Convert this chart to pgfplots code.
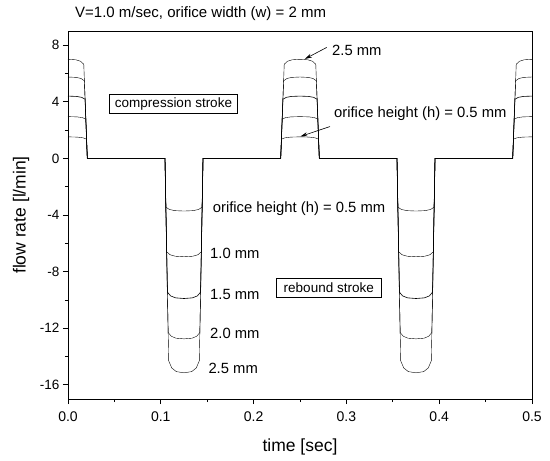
\documentclass[border=0pt]{standalone}
\usepackage{fontspec}
\setmainfont{Liberation Sans}
\usepackage{pgfplots}
\pgfplotsset{compat=1.18}
\usetikzlibrary{arrows.meta}
\newcommand{\fs}[1]{\fontsize{#1}{#1}\selectfont}

\begin{document}
\begin{tikzpicture}
\begin{axis}[name=ax, scale only axis, width=464pt, height=368pt,
  xmin=0, xmax=0.5, ymin=-17, ymax=9,
  xtick={0,0.1,0.2,0.3,0.4,0.5}, minor xtick={0.05,0.15,0.25,0.35,0.45},
  ytick={-16,-12,-8,-4,0,4,8}, minor ytick={-14,-10,-6,-2,2,6},
  xtick pos=bottom, ytick pos=left, tick align=outside,
  major tick length=5pt, minor tick length=3pt,
  tick style={black, line width=0.7pt},
  axis line style={line width=0.9pt},
  /pgf/number format/assume math mode=true,
  xticklabel style={font=\fs{14}, yshift=-4pt, /pgf/number format/.cd, fixed, fixed zerofill, precision=1},
  yticklabel style={font=\fs{13.5}},
  xlabel={time [sec]}, ylabel={flow rate [l/min]},
  label style={font=\fs{17.5}},
  xlabel style={at={(axis description cs:0.5,-0.130)}, anchor=center},
  ylabel style={at={(axis description cs:-0.101,0.5)}, anchor=center},
  cycle list={{black, solid, line width=0.6pt}}]

% h = 2.5 mm
\addplot coordinates {(0,7.0) (0.0085,6.965) (0.0136,6.86) (0.017,6.65) (0.0208,0)
 (0.1045,0) (0.1085,-14.3) (0.1118,-14.81) (0.11675,-15.065) (0.125,-15.15) (0.13325,-15.065) (0.1382,-14.81) (0.1415,-14.3) (0.1455,0)
 (0.2292,0) (0.233,6.65) (0.2364,6.86) (0.2415,6.965) (0.25,7.0) (0.2585,6.965) (0.2636,6.86) (0.267,6.65) (0.2708,0)
 (0.3545,0) (0.3585,-14.3) (0.3618,-14.81) (0.36675,-15.065) (0.375,-15.15) (0.38325,-15.065) (0.3882,-14.81) (0.3915,-14.3) (0.3955,0)
 (0.4792,0) (0.483,6.65) (0.4864,6.86) (0.4915,6.965) (0.5,7.0)};
% h = 2.0 mm
\addplot coordinates {(0,5.75) (0.00885,5.723) (0.01416,5.642) (0.0177,5.48) (0.0208,0)
 (0.1045,0) (0.1079,-12.3) (0.11132,-12.57) (0.11645,-12.705) (0.125,-12.75) (0.13355,-12.705) (0.13868,-12.57) (0.1421,-12.3) (0.1455,0)
 (0.2292,0) (0.2323,5.48) (0.23584,5.642) (0.24115,5.723) (0.25,5.75) (0.25885,5.723) (0.26416,5.642) (0.2677,5.48) (0.2708,0)
 (0.3545,0) (0.3579,-12.3) (0.36132,-12.57) (0.36645,-12.705) (0.375,-12.75) (0.38355,-12.705) (0.38868,-12.57) (0.3921,-12.3) (0.3955,0)
 (0.4792,0) (0.4823,5.48) (0.48584,5.642) (0.49115,5.723) (0.5,5.75)};
% h = 1.5 mm
\addplot coordinates {(0,4.4) (0.0092,4.378) (0.01472,4.312) (0.0184,4.18) (0.0208,0)
 (0.1045,0) (0.1071,-9.45) (0.11068,-9.72) (0.11605,-9.855) (0.125,-9.9) (0.13395,-9.855) (0.13932,-9.72) (0.1429,-9.45) (0.1455,0)
 (0.2292,0) (0.2316,4.18) (0.23528,4.312) (0.2408,4.378) (0.25,4.4) (0.2592,4.378) (0.26472,4.312) (0.2684,4.18) (0.2708,0)
 (0.3545,0) (0.3571,-9.45) (0.36068,-9.72) (0.36605,-9.855) (0.375,-9.9) (0.38395,-9.855) (0.38932,-9.72) (0.3929,-9.45) (0.3955,0)
 (0.4792,0) (0.4816,4.18) (0.48528,4.312) (0.4908,4.378) (0.5,4.4)};
% h = 1.0 mm
\addplot coordinates {(0,2.95) (0.0096,2.933) (0.01536,2.882) (0.0192,2.78) (0.0208,0)
 (0.1045,0) (0.1063,-6.6) (0.11004,-6.81) (0.11565,-6.915) (0.125,-6.95) (0.13435,-6.915) (0.13996,-6.81) (0.1437,-6.6) (0.1455,0)
 (0.2292,0) (0.2308,2.78) (0.23464,2.882) (0.2404,2.933) (0.25,2.95) (0.2596,2.933) (0.26536,2.882) (0.2692,2.78) (0.2708,0)
 (0.3545,0) (0.3563,-6.6) (0.36004,-6.81) (0.36565,-6.915) (0.375,-6.95) (0.38435,-6.915) (0.38996,-6.81) (0.3937,-6.6) (0.3955,0)
 (0.4792,0) (0.4808,2.78) (0.48464,2.882) (0.4904,2.933) (0.5,2.95)};
% h = 0.5 mm
\addplot coordinates {(0,1.52) (0.01,1.504) (0.016,1.456) (0.02,1.36) (0.0208,0)
 (0.1045,0) (0.1055,-3.45) (0.1094,-3.612) (0.11525,-3.693) (0.125,-3.72) (0.13475,-3.693) (0.1406,-3.612) (0.1445,-3.45) (0.1455,0)
 (0.2292,0) (0.23,1.36) (0.234,1.456) (0.24,1.504) (0.25,1.52) (0.26,1.504) (0.266,1.456) (0.27,1.36) (0.2708,0)
 (0.3545,0) (0.3555,-3.45) (0.3594,-3.612) (0.36525,-3.693) (0.375,-3.72) (0.38475,-3.693) (0.3906,-3.612) (0.3945,-3.45) (0.3955,0)
 (0.4792,0) (0.48,1.36) (0.484,1.456) (0.49,1.504) (0.5,1.52)};

% annotations, compression stroke
\node[anchor=west, inner sep=0pt, font=\fs{14.8}] at (axis cs:0.2845,7.6) {2.5 mm};
\draw[line width=0.6pt, -{Stealth[length=7pt,width=4pt]}] (axis cs:0.2788,7.84) -- (axis cs:0.2554,7.03);
\node[anchor=west, inner sep=0pt, font=\fs{14.8}] at (axis cs:0.2866,3.13) {orifice height (h) = 0.5 mm};
\draw[line width=0.6pt, -{Stealth[length=7pt,width=4pt]}] (axis cs:0.2823,2.25) -- (axis cs:0.2505,1.55);
\node[draw, line width=0.6pt, inner xsep=5.5pt, inner ysep=3.5pt, font=\fs{13.5}] at (axis cs:0.1137,3.85) {compression stroke};

% annotations, rebound stroke
\node[anchor=west, inner sep=0pt, font=\fs{14.8}] at (axis cs:0.1559,-3.53) {orifice height (h) = 0.5 mm};
\node[anchor=west, inner sep=0pt, font=\fs{14.8}] at (axis cs:0.153,-6.69) {1.0 mm};
\node[anchor=west, inner sep=0pt, font=\fs{14.8}] at (axis cs:0.153,-9.65) {1.5 mm};
\node[anchor=west, inner sep=0pt, font=\fs{14.8}] at (axis cs:0.153,-12.4) {2.0 mm};
\node[anchor=west, inner sep=0pt, font=\fs{14.8}] at (axis cs:0.1512,-14.83) {2.5 mm};
\node[draw, line width=0.6pt, inner xsep=7pt, inner ysep=4.5pt, font=\fs{13.5}] at (axis cs:0.281,-9.14) {rebound stroke};
\end{axis}

\node[anchor=base west, inner sep=0pt, font=\fs{15}] at ([xshift=7pt,yshift=13pt]ax.north west) {V=1.0 m/sec, orifice width (w) = 2 mm};

\pgfresetboundingbox
\path ([shift={(-68pt,-61pt)}]ax.south west) rectangle ([shift={(18pt,31pt)}]ax.north east);
\end{tikzpicture}
\end{document}
